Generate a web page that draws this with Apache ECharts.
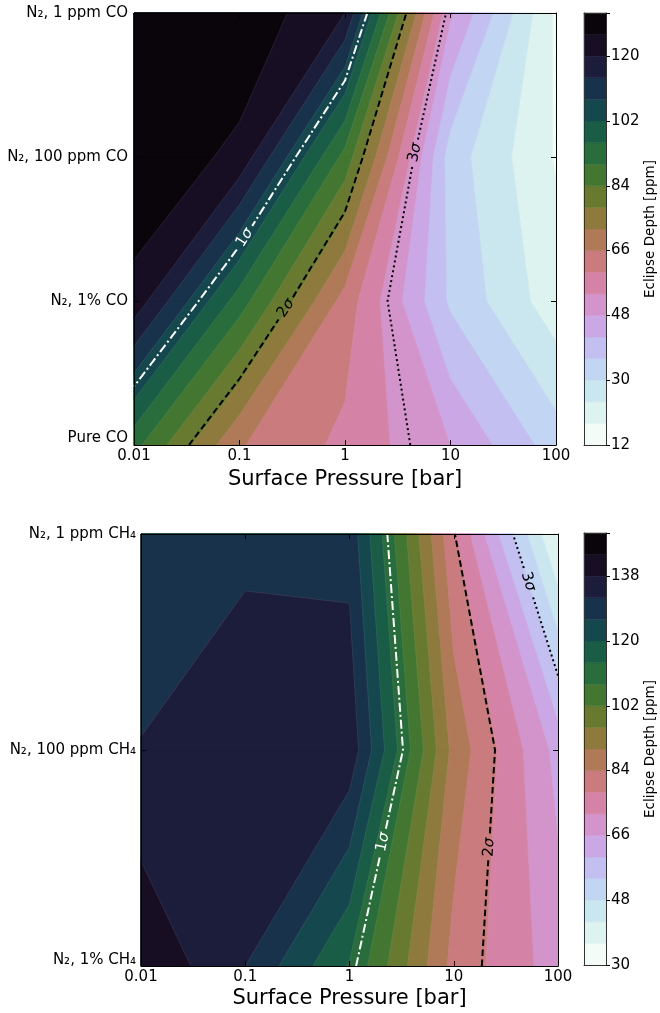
<!DOCTYPE html>
<html><head><meta charset="utf-8">
<script src="https://cdn.jsdelivr.net/npm/echarts/dist/echarts.min.js"></script>
<style>html,body{margin:0;padding:0;background:#fff}#c{width:660px;height:1013px}</style>
</head><body><div id="c"></div>
<script>
// ---------------- DATA ----------------
const pressures = [0.01, 0.1, 1, 10, 100];
const pressureTickLabels = ['0.01', '0.1', '1', '10', '100'];

const coRowLabels = ['Pure CO', 'N₂, 1% CO', 'N₂, 100 ppm CO', 'N₂, 1 ppm CO'];
const coDepthPure = [92, 66.5, 58.5, 48, 33];
const coDepth1pct = [124, 93, 63.5, 35, 20.5];
const coDepth100ppm = [131, 124.4, 88, 33, 17.5];
const coDepth1ppm = [131.5, 131, 120, 49, 17];
const coLevels = [12, 18, 24, 30, 36, 42, 48, 54, 60, 66, 72, 78, 84, 90, 96, 102, 108, 114, 120, 126, 132];
const coTicks = [12, 30, 48, 66, 84, 102, 120];
const coSigmaLevels = [105, 78.7, 52];

const ch4RowLabels = ['N₂, 1% CH₄', 'N₂, 100 ppm CH₄', 'N₂, 1 ppm CH₄'];
const ch4Depth1pct = [143.5, 132, 113.5, 82, 69];
const ch4Depth100ppm = [132.2, 137.6, 136.25, 88, 64];
const ch4Depth1ppm = [129, 130, 130, 79, 35];
const ch4Levels = [30, 36, 42, 48, 54, 60, 66, 72, 78, 84, 90, 96, 102, 108, 114, 120, 126, 132, 138, 144, 150];
const ch4Ticks = [30, 48, 66, 84, 102, 120, 138];
const ch4SigmaLevels = [111.5, 78.5, 54];

const sigmaNames = ['1', '2', '3'];
const xAxisTitle = 'Surface Pressure [bar]';
const cbarTitle = 'Eclipse Depth [ppm]';

// ---------------- STYLE / LAYOUT ----------------
const FONT = 'DejaVu Sans';
const sigmaStyles = [
  { color: '#ffffff', dash: [9, 3, 2, 3] },
  { color: '#000000', dash: [6.5, 3.5] },
  { color: '#000000', dash: [2, 3] }
];
const coLabelAnchorY = [1.44, 0.95, 2.03];
const ch4LabelAnchorY = [0.574, 0.55, 1.78];
const firstRowLift = [14, 12]; // the lowest row label sits slightly above its tick in the original

// ---------------- HELPERS ----------------
function cubehelix(x) {
  const a = x * (1 - x) / 2, phi = 2 * Math.PI * (0.5 / 3 - 1.5 * x);
  const c = Math.cos(phi), s = Math.sin(phi);
  const R = x + a * (-0.14861 * c + 1.78277 * s);
  const G = x + a * (-0.29227 * c - 0.90649 * s);
  const B = x + a * (1.97294 * c);
  const f = v => Math.round(Math.min(1, Math.max(0, v)) * 255);
  return 'rgb(' + f(R) + ',' + f(G) + ',' + f(B) + ')';
}
function bandColor(k, n) { return cubehelix(1 - (k + 0.5) / n); }
const lerp = (a, b, t) => a + (b - a) * t;

function clip(poly, level) {
  const out = [];
  for (let i = 0; i < poly.length; i++) {
    const A = poly[i], B = poly[(i + 1) % poly.length];
    const ina = A[2] >= level, inb = B[2] >= level;
    if (ina) out.push(A);
    if (ina !== inb) {
      const t = (level - A[2]) / (B[2] - A[2]);
      out.push([lerp(A[0], B[0], t), lerp(A[1], B[1], t), level]);
    }
  }
  return out;
}
function cellQuad(z, lx, r, c) {
  return [[lx[c], r, z[r][c]], [lx[c + 1], r, z[r][c + 1]], [lx[c + 1], r + 1, z[r + 1][c + 1]], [lx[c], r + 1, z[r + 1][c]]];
}
function buildFills(z, lx, levels) {
  const out = [];
  for (let k = 0; k < levels.length - 1; k++) {
    for (let r = 0; r < z.length - 1; r++) for (let c = 0; c < lx.length - 1; c++) {
      const p = clip(cellQuad(z, lx, r, c), levels[k]);
      if (p.length >= 3) out.push({ k: k, pts: p.map(q => [q[0], q[1]]) });
    }
  }
  return out;
}
function contourLines(z, lx, level) {
  const segs = [];
  for (let r = 0; r < z.length - 1; r++) for (let c = 0; c < lx.length - 1; c++) {
    const P = cellQuad(z, lx, r, c);
    const pts = {};
    let cnt = 0;
    for (let e = 0; e < 4; e++) {
      const A = P[e], B = P[(e + 1) % 4];
      if ((A[2] >= level) !== (B[2] >= level)) {
        const t = (level - A[2]) / (B[2] - A[2]);
        pts[e] = [lerp(A[0], B[0], t), lerp(A[1], B[1], t)]; cnt++;
      }
    }
    const keys = Object.keys(pts).map(Number);
    if (cnt === 2) segs.push([pts[keys[0]], pts[keys[1]]]);
    else if (cnt === 4) {
      const centerAbove = (P[0][2] + P[1][2] + P[2][2] + P[3][2]) / 4 >= level;
      for (let i = 0; i < 4; i++) if ((P[i][2] >= level) !== centerAbove) segs.push([pts[(i + 3) % 4], pts[i]]);
    }
  }
  const key = p => p[0].toFixed(6) + ',' + p[1].toFixed(6);
  const map = new Map();
  segs.forEach((s, i) => s.forEach(p => { const k = key(p); if (!map.has(k)) map.set(k, []); map.get(k).push(i); }));
  const used = segs.map(() => false), lines = [];
  for (let i = 0; i < segs.length; i++) {
    if (used[i]) continue;
    used[i] = true;
    const line = [segs[i][0], segs[i][1]];
    for (let dir = 0; dir < 2; dir++) {
      let go = true;
      while (go) {
        go = false;
        const end = dir === 0 ? line[line.length - 1] : line[0];
        for (const j of (map.get(key(end)) || [])) {
          if (used[j]) continue;
          used[j] = true;
          const s = segs[j], nxt = key(s[0]) === key(end) ? s[1] : s[0];
          if (dir === 0) line.push(nxt); else line.unshift(nxt);
          go = true; break;
        }
      }
    }
    lines.push(line);
  }
  return lines;
}

// ---------------- BUILD PANELS ----------------
const logP = pressures.map(p => Math.log10(p));
function makePanel(z, levels, sigmaLevels, anchors) {
  return {
    fills: buildFills(z, logP, levels),
    seams: levels.slice(1, -1).map(L => contourLines(z, logP, L)).flat(),
    sigma: sigmaLevels.map((L, i) => ({ i: i, lines: contourLines(z, logP, L), anchor: anchors[i] })),
    n: levels.length - 1
  };
}
const coGrid = [coDepthPure, coDepth1pct, coDepth100ppm, coDepth1ppm];
const ch4Grid = [ch4Depth1pct, ch4Depth100ppm, ch4Depth1ppm];
const panels = [
  makePanel(coGrid, coLevels, coSigmaLevels, coLabelAnchorY),
  makePanel(ch4Grid, ch4Levels, ch4SigmaLevels, ch4LabelAnchorY)
];

function toPx(api, p) { return api.coord([Math.pow(10, p[0]), p[1]]); }

function fillSeries(pi, xi, yi) {
  const P = panels[pi];
  return {
    type: 'custom', xAxisIndex: xi, yAxisIndex: yi, silent: true, z: 2,
    data: P.fills.map(f => [1, 1, f.k]),
    renderItem: (params, api) => {
      const f = P.fills[params.dataIndex];
      const col = bandColor(f.k, P.n);
      return { type: 'polygon', shape: { points: f.pts.map(p => toPx(api, p)) }, style: { fill: col, stroke: col, lineWidth: 0.7 } };
    }
  };
}
function seamSeries(pi, xi, yi) {
  const P = panels[pi];
  return {
    type: 'custom', xAxisIndex: xi, yAxisIndex: yi, silent: true, z: 3,
    data: P.seams.map(() => [1, 1]),
    renderItem: (params, api) => ({
      type: 'polyline', shape: { points: P.seams[params.dataIndex].map(p => toPx(api, p)) },
      style: { stroke: 'rgba(255,255,255,0.22)', lineWidth: 0.5, fill: null }
    })
  };
}
function sigmaSeries(pi, xi, yi) {
  const P = panels[pi];
  return {
    type: 'custom', xAxisIndex: xi, yAxisIndex: yi, silent: true, z: 4,
    data: P.sigma.map(s => [1, 1, s.i]),
    renderItem: (params, api) => {
      const S = P.sigma[params.dataIndex];
      const st = sigmaStyles[S.i];
      const ay = api.coord([1, S.anchor])[1];
      const pxLines = S.lines.map(l => l.map(p => toPx(api, p)));
      let C = null, ang = 0;
      pxLines.forEach(l => {
        for (let i = 0; i < l.length - 1 && !C; i++) {
          const A = l[i], B = l[i + 1];
          if ((A[1] - ay) * (B[1] - ay) <= 0 && A[1] !== B[1]) {
            const t = (ay - A[1]) / (B[1] - A[1]);
            C = [lerp(A[0], B[0], t), ay];
            ang = Math.atan2(-(B[1] - A[1]), B[0] - A[0]);
          }
        }
      });
      if (ang > Math.PI / 2) ang -= Math.PI;
      if (ang < -Math.PI / 2) ang += Math.PI;
      const R = 13;
      const children = [];
      pxLines.forEach(l => {
        let run = [];
        const flush = () => { if (run.length > 1) children.push(run); run = []; };
        for (let i = 0; i < l.length - 1; i++) {
          const A = l[i], B = l[i + 1];
          const n = Math.max(1, Math.ceil(Math.hypot(B[0] - A[0], B[1] - A[1]) / 1.5));
          for (let j = 0; j <= n; j++) {
            if (j === 0 && i > 0) continue;
            const p = [lerp(A[0], B[0], j / n), lerp(A[1], B[1], j / n)];
            if (C && Math.hypot(p[0] - C[0], p[1] - C[1]) < R) flush(); else run.push(p);
          }
        }
        flush();
      });
      const els = children.map(pts => ({
        type: 'polyline', shape: { points: pts },
        style: { stroke: st.color, lineWidth: 2, lineDash: st.dash, fill: null, lineCap: 'butt' }
      }));
      if (C) els.push({
        type: 'text', x: C[0], y: C[1], rotation: ang,
        style: { text: sigmaNames[S.i] + '{s|σ}', fill: st.color, font: '15px "' + FONT + '"', align: 'center', verticalAlign: 'middle',
          rich: { s: { fontStyle: 'italic', fontSize: 15, fontFamily: FONT, fill: st.color } } }
      });
      return { type: 'group', children: els };
    }
  };
}
function cbarSeries(levels, xi, yi) {
  const n = levels.length - 1;
  return {
    type: 'custom', xAxisIndex: xi, yAxisIndex: yi, silent: true, z: 2,
    data: levels.slice(0, -1).map((L, k) => [0, L, levels[k + 1], k]),
    renderItem: (params, api) => {
      const a = api.coord([0, api.value(1)]), b = api.coord([1, api.value(2)]);
      const col = bandColor(api.value(3), n);
      return { type: 'rect', shape: { x: a[0], y: b[1], width: b[0] - a[0], height: a[1] - b[1] }, style: { fill: col, stroke: col, lineWidth: 0.5 } };
    }
  };
}

// ---------------- AXES ----------------
const txt = { color: '#000', fontFamily: FONT, fontSize: 15 };
function pAxis(grid, pos, labels, gap) {
  return {
    type: 'log', logBase: 10, min: 0.01, max: 100, gridIndex: grid, position: pos, z: 10,
    axisLine: { show: true, onZero: false, lineStyle: { color: '#000', width: 1 } },
    axisTick: { show: true, inside: true, length: 5, lineStyle: { color: '#000', width: 1 } },
    minorTick: { show: false }, splitLine: { show: false },
    axisLabel: { show: labels, margin: 4, ...txt, formatter: v => pressureTickLabels[Math.round(Math.log10(v)) + 2] },
    name: labels ? xAxisTitle : '', nameLocation: 'middle', nameGap: gap || 24,
    nameTextStyle: { color: '#000', fontFamily: FONT, fontSize: 21 }
  };
}
function rAxis(grid, pos, rows, labels, margin, lift) {
  return {
    type: 'value', min: 0, max: rows.length - 1, interval: 1, gridIndex: grid, position: pos, z: 10,
    axisLine: { show: true, onZero: false, lineStyle: { color: '#000', width: 1 } },
    axisTick: { show: true, inside: true, length: 5, lineStyle: { color: '#000', width: 1 } },
    splitLine: { show: false },
    axisLabel: {
      show: labels, margin: margin || 6, ...txt,
      formatter: v => Math.round(v) === 0 ? '{lo|' + rows[0] + '}' : rows[Math.round(v)],
      rich: { lo: { ...txt, padding: [0, 0, lift || 0, 0] } }
    }
  };
}
function cbX(grid, pos) {
  return { type: 'value', min: 0, max: 1, gridIndex: grid, position: pos, z: 10,
    axisLine: { show: true, onZero: false, lineStyle: { color: '#333', width: 1 } },
    axisTick: { show: false }, axisLabel: { show: false }, splitLine: { show: false } };
}
function cbY(grid, pos, levels, ticks, labels) {
  return {
    type: 'value', min: levels[0], max: levels[levels.length - 1], interval: ticks[1] - ticks[0], gridIndex: grid, position: pos, z: 10,
    axisLine: { show: true, onZero: false, lineStyle: { color: '#333', width: 1 } },
    axisTick: { show: labels, inside: false, length: 4, lineStyle: { color: '#000' } },
    splitLine: { show: false },
    axisLabel: { show: labels, margin: 5, ...txt, formatter: v => ticks.indexOf(v) >= 0 ? String(v) : '' },
    name: labels ? cbarTitle : '', nameLocation: 'middle', nameRotate: 90, nameGap: 34,
    nameTextStyle: { color: '#000', fontFamily: FONT, fontSize: 13.5 }
  };
}

const option = {
  animation: false,
  backgroundColor: '#fff',
  grid: [
    { left: 134, top: 13, width: 422, height: 432 },
    { left: 584, top: 13, width: 22, height: 432 },
    { left: 141, top: 534, width: 417, height: 432 },
    { left: 584, top: 533, width: 22, height: 432 }
  ],
  xAxis: [pAxis(0, 'bottom', true, 24), pAxis(0, 'top', false), cbX(1, 'bottom'), cbX(1, 'top'),
          pAxis(2, 'bottom', true, 22), pAxis(2, 'top', false), cbX(3, 'bottom'), cbX(3, 'top')],
  yAxis: [rAxis(0, 'left', coRowLabels, true, 6, firstRowLift[0]), rAxis(0, 'right', coRowLabels, false),
          cbY(1, 'right', coLevels, coTicks, true), cbY(1, 'left', coLevels, coTicks, false),
          rAxis(2, 'left', ch4RowLabels, true, 5, firstRowLift[1]), rAxis(2, 'right', ch4RowLabels, false),
          cbY(3, 'right', ch4Levels, ch4Ticks, true), cbY(3, 'left', ch4Levels, ch4Ticks, false)],
  series: [
    fillSeries(0, 0, 0), seamSeries(0, 0, 0), sigmaSeries(0, 0, 0), cbarSeries(coLevels, 2, 2),
    fillSeries(1, 4, 4), seamSeries(1, 4, 4), sigmaSeries(1, 4, 4), cbarSeries(ch4Levels, 6, 6)
  ]
};
const chart = echarts.init(document.getElementById('c'), null, { renderer: 'canvas' });
chart.setOption(option);
</script>
</body></html>
